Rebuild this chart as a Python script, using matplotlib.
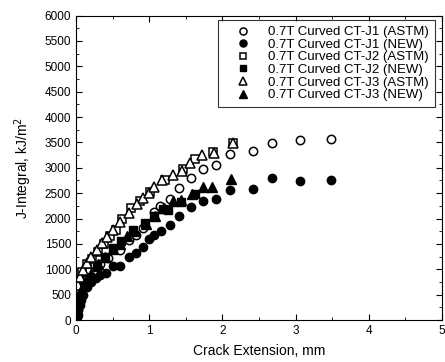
import numpy as np
import matplotlib.pyplot as plt

plt.rcParams['font.family'] = ['Liberation Sans', 'DejaVu Sans']

# J1 (ASTM) - open circles
j1_astm_x = [0.01, 0.02, 0.05, 0.10, 0.15, 0.25, 0.33, 0.44, 0.60, 0.72, 0.82, 0.91,
             1.06, 1.15, 1.29, 1.41, 1.57, 1.73, 1.91, 2.11, 2.42, 2.68, 3.06, 3.48]
j1_astm_y = [150, 300, 500, 650, 800, 950, 1100, 1215, 1380, 1577, 1669, 1820,
             2122, 2247, 2378, 2608, 2805, 2976, 3055, 3272, 3331, 3495, 3541, 3561]

# J1 (NEW) - filled circles
j1_new_x = [0.01, 0.02, 0.03, 0.05, 0.07, 0.10, 0.15, 0.20, 0.27, 0.33, 0.41, 0.50,
            0.60, 0.72, 0.82, 0.91, 0.99, 1.06, 1.16, 1.29, 1.41, 1.57, 1.73, 1.91,
            2.11, 2.42, 2.68, 3.06, 3.48]
j1_new_y = [50, 100, 200, 300, 400, 500, 650, 750, 820, 887, 920, 1071,
            1071, 1235, 1314, 1445, 1603, 1675, 1754, 1866, 2056, 2221, 2345, 2378,
            2556, 2589, 2792, 2746, 2753]

# J2 (ASTM) - open squares
j2_astm_x = [0.01, 0.04, 0.08, 0.15, 0.22, 0.30, 0.38, 0.47, 0.55, 0.63, 0.75, 0.88,
             1.01, 1.22, 1.46, 1.63, 1.87, 2.14]
j2_astm_y = [700, 900, 950, 1100, 1200, 1350, 1500, 1650, 1780, 2000, 2200, 2350,
             2530, 2760, 2970, 3167, 3318, 3495]

# J2 (NEW) - filled squares
j2_new_x = [0.02, 0.05, 0.10, 0.19, 0.28, 0.40, 0.51, 0.62, 0.78, 0.94, 1.06, 1.19,
            1.25, 1.43, 1.62]
j2_new_y = [260, 460, 650, 850, 1050, 1250, 1413, 1564, 1774, 1905, 2050, 2180,
            2168, 2330, 2480]

# J3 (ASTM) - open triangles
j3_astm_x = [0.02, 0.05, 0.10, 0.15, 0.21, 0.28, 0.35, 0.42, 0.51, 0.60, 0.72, 0.83,
             0.92, 0.99, 1.07, 1.18, 1.33, 1.45, 1.56, 1.72, 1.88, 2.14]
j3_astm_y = [690, 850, 985, 1120, 1250, 1380, 1510, 1630, 1775, 1940, 2100, 2290,
             2400, 2510, 2630, 2760, 2860, 2940, 3090, 3250, 3300, 3480]

# J3 (NEW) - filled triangles
j3_new_x = [0.01, 0.03, 0.07, 0.12, 0.20, 0.30, 0.40, 0.50, 0.60, 0.70, 0.80, 0.95,
            1.08, 1.20, 1.33, 1.44, 1.58, 1.73, 1.86, 2.12]
j3_new_y = [200, 400, 600, 750, 900, 1100, 1250, 1400, 1500, 1650, 1750, 1900,
            2050, 2200, 2350, 2364, 2482, 2626, 2626, 2778]

labels = ['0.7T Curved CT-J1 (ASTM)', '0.7T Curved CT-J1 (NEW)',
          '0.7T Curved CT-J2 (ASTM)', '0.7T Curved CT-J2 (NEW)',
          '0.7T Curved CT-J3 (ASTM)', '0.7T Curved CT-J3 (NEW)']

fig = plt.figure(figsize=(4.45, 3.62), dpi=100)
ax = fig.add_axes([0.171, 0.116, 0.822, 0.841])

ms = 6
ax.plot(j1_astm_x, j1_astm_y, 'o', ms=ms, mfc='white', mec='black', mew=1.1, label=labels[0])
ax.plot(j1_new_x, j1_new_y, 'o', ms=ms, mfc='black', mec='black', label=labels[1])
ax.plot(j2_astm_x, j2_astm_y, 's', ms=ms - 0.5, mfc='white', mec='black', mew=1.1, label=labels[2])
ax.plot(j2_new_x, j2_new_y, 's', ms=ms - 0.5, mfc='black', mec='black', label=labels[3])
ax.plot(j3_astm_x, j3_astm_y, '^', ms=ms + 1, mfc='white', mec='black', mew=1.1, label=labels[4])
ax.plot(j3_new_x, j3_new_y, '^', ms=ms + 1, mfc='black', mec='black', label=labels[5])

ax.set_xlim(0, 5)
ax.set_ylim(0, 6000)
ax.set_xticks(np.arange(0, 6, 1))
ax.set_xticks(np.arange(0, 5.01, 0.5), minor=True)
ax.set_yticks(np.arange(0, 6001, 500))
ax.set_yticks(np.arange(0, 6001, 250), minor=True)
ax.tick_params(which='both', direction='in', top=True, right=True, labelsize=8.5)
ax.tick_params(which='major', length=4)
ax.tick_params(which='minor', length=2)

ax.set_xlabel('Crack Extension, mm', fontsize=10, labelpad=5)
ax.set_ylabel('J-Integral, kJ/m$^2$', fontsize=10, labelpad=8)

leg = ax.legend(loc='upper right', fontsize=9.5, frameon=True, fancybox=False,
                edgecolor='black', borderpad=0.42, labelspacing=0.03,
                handlelength=3.0, handletextpad=0.4, markerscale=0.85,
                bbox_to_anchor=(0.98, 0.984), borderaxespad=0)
leg.get_frame().set_linewidth(0.8)

fig.savefig('out.png', dpi=100)
